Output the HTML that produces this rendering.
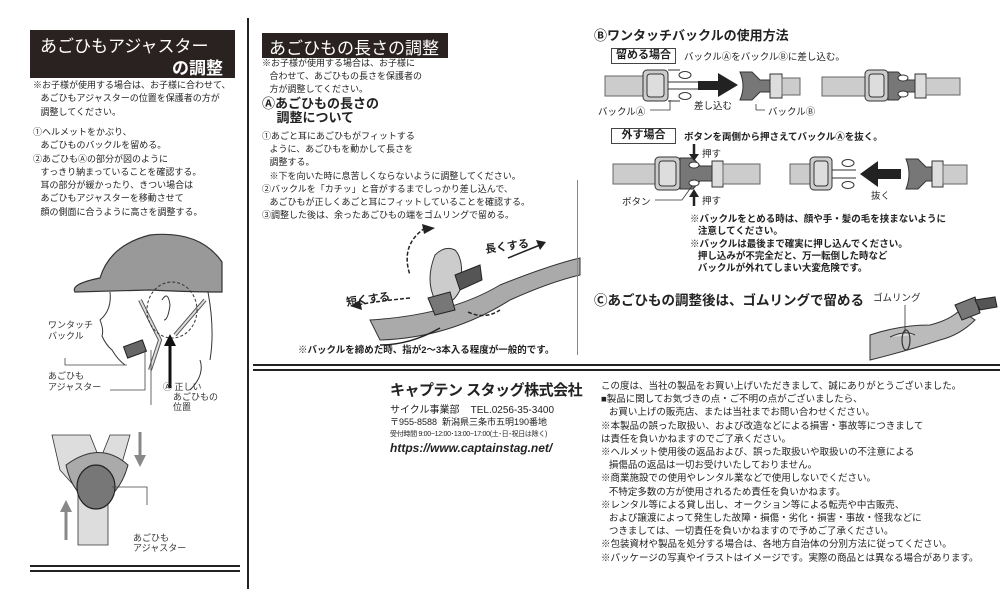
<!DOCTYPE html>
<html><head><meta charset="utf-8">
<style>
*{margin:0;padding:0;box-sizing:border-box}
body{width:1000px;height:589px;background:#fff;position:relative;overflow:hidden;font-family:"Liberation Sans","Noto Sans CJK JP",sans-serif;color:#222}
.a{position:absolute;white-space:nowrap}
.t{font-size:9.5px;line-height:13.2px}
.b{font-weight:bold}
.box{position:absolute;border:1.5px solid #444;font-size:11px;font-weight:bold;text-align:center;line-height:13px}
</style></head><body>
<!-- left title -->
<div class="a" style="left:30px;top:30px;width:205px;height:48px;background:#2a2220"></div>
<div class="a" style="left:40px;top:32px;color:#fff;font-size:17px">あごひもアジャスター</div>
<div class="a" style="left:172px;top:54px;color:#fff;font-size:17px;font-weight:bold">の調整</div>
<div class="a" style="left:33px;top:79px;font-size:9px;line-height:13.3px">※お子様が使用する場合は、お子様に合わせて、<br>&nbsp;&nbsp;&nbsp;あごひもアジャスターの位置を保護者の方が<br>&nbsp;&nbsp;&nbsp;調整してください。</div>
<div class="a" style="left:33px;top:126px;font-size:9px;line-height:13.3px">①ヘルメットをかぶり、<br>&nbsp;&nbsp;&nbsp;あごひものバックルを留める。<br>②あごひもⒶの部分が図のように<br>&nbsp;&nbsp;&nbsp;すっきり納まっていることを確認する。<br>&nbsp;&nbsp;&nbsp;耳の部分が緩かったり、きつい場合は<br>&nbsp;&nbsp;&nbsp;あごひもアジャスターを移動させて<br>&nbsp;&nbsp;&nbsp;顔の側面に合うように高さを調整する。</div>

<div class="a" style="left:247px;top:18px;width:2px;height:571px;background:#222"></div>

<svg class="a" style="left:0;top:0" width="250" height="589">
 <path d="M75 292 Q70 284 100 278 Q110 245 150 235 Q200 230 222 262 L222 292 Q190 292 150 290 Z" fill="#999" stroke="#333" stroke-width="1.2"/>
 <path d="M110 292 Q112 310 100 320 Q104 330 102 336 Q106 345 112 350 Q118 360 125 365 M208 292 Q215 330 210 360 M200 360 Q205 375 190 390" fill="none" stroke="#333" stroke-width="1"/>
 <path d="M140 300 L160 340 L150 370 M205 300 L175 335" fill="none" stroke="#555" stroke-width="4"/>
 <path d="M140 300 L160 340 L150 370 M205 300 L175 335" fill="none" stroke="#ddd" stroke-width="2"/>
 <ellipse cx="172" cy="310" rx="25" ry="28" fill="none" stroke="#333" stroke-dasharray="3 2"/>
 <path d="M162 300 Q168 290 170 305 Q168 320 164 320" fill="none" stroke="#333"/>
 <rect x="125" y="343" width="20" height="12" fill="#666" stroke="#222" transform="rotate(-20 135 349)"/>
 <path d="M65 358 L65 365 L127 365 M110 390 L145 390 L145 350 M151 350 L151 405" fill="none" stroke="#444" stroke-width=".8"/>
 <path d="M170 388 L170 340" stroke="#111" stroke-width="3"/><path d="M164 346 L170 334 L176 346Z" fill="#111"/>
 <path d="M52 435 L90 435 L100 460 L110 435 L130 435 L120 470 L108 490 L108 545 L78 545 L78 490 L60 470 Z" fill="#ddd" stroke="#333" stroke-width=".8"/>
 <path d="M66 465 Q100 440 128 465 Q120 495 96 505 Q72 495 66 465Z" fill="#aaa" stroke="#333"/>
 <ellipse cx="96" cy="487" rx="19" ry="22" fill="#777" stroke="#222" stroke-width="1.2"/>
 <path d="M112 487 L147 487 L147 505" fill="none" stroke="#444" stroke-width=".8"/>
 <path d="M140 432 L140 457" stroke="#888" stroke-width="3"/><path d="M134 455 L140 467 L146 455Z" fill="#888"/>
 <path d="M66 540 L66 510" stroke="#888" stroke-width="3"/><path d="M60 512 L66 500 L72 512Z" fill="#888"/>
 <rect x="30" y="565" width="210" height="2" fill="#222"/><rect x="30" y="570" width="210" height="2" fill="#222"/>
</svg>
<div class="a" style="left:48px;top:320px;font-size:9px;line-height:11px;color:#333">ワンタッチ<br>バックル</div>
<div class="a" style="left:48px;top:371px;font-size:9px;line-height:11px;color:#333">あごひも<br>アジャスター</div>
<div class="a" style="left:163px;top:382px;font-size:9px;line-height:10px;color:#333">Ⓐ 正しい<br>&nbsp;&nbsp;&nbsp;&nbsp;あごひもの<br>&nbsp;&nbsp;&nbsp;&nbsp;位置</div>
<div class="a" style="left:133px;top:533px;font-size:9px;line-height:10px;color:#333">あごひも<br>アジャスター</div>

<!-- middle -->
<div class="a" style="left:262px;top:33px;width:186px;height:25px;background:#2a2220"></div>
<div class="a" style="left:269px;top:34px;color:#fff;font-size:17px">あごひもの長さの調整</div>
<div class="a t" style="left:262px;top:57px;font-size:9px;line-height:13px">※お子様が使用する場合は、お子様に<br>&nbsp;&nbsp;&nbsp;合わせて、あごひもの長さを保護者の<br>&nbsp;&nbsp;&nbsp;方が調整してください。</div>
<div class="a b" style="left:262px;top:97px;font-size:13px;line-height:14px">Ⓐあごひもの長さの<br>&nbsp;&nbsp;&nbsp;&nbsp;調整について</div>
<div class="a t" style="left:262px;top:130px;font-size:9px">①あごと耳にあごひもがフィットする<br>&nbsp;&nbsp;&nbsp;ように、あごひもを動かして長さを<br>&nbsp;&nbsp;&nbsp;調整する。<br>&nbsp;&nbsp;&nbsp;※下を向いた時に息苦しくならないように調整してください。<br>②バックルを「カチッ」と音がするまでしっかり差し込んで、<br>&nbsp;&nbsp;&nbsp;あごひもが正しくあごと耳にフィットしていることを確認する。<br>③調整した後は、余ったあごひもの端をゴムリングで留める。</div>
<svg class="a" style="left:250px;top:220px" width="340" height="150">
 <path d="M120 100 Q200 95 250 65 Q300 45 330 38 L330 55 Q300 62 260 80 Q200 118 130 120 Z" fill="#aaa" stroke="#333"/>
 <path d="M185 35 Q175 60 185 80 Q200 90 210 70 Q215 40 205 30 Q195 25 185 35Z" fill="#ccc" stroke="#333"/>
 <path d="M205 55 L230 45 L232 60 L210 70Z" fill="#555" stroke="#222"/>
 <path d="M178 78 L200 72 L205 90 L185 95Z" fill="#777" stroke="#222"/>
 <path d="M175 8 Q150 25 160 55" fill="none" stroke="#222" stroke-width="1.5" stroke-dasharray="4 2"/>
 <path d="M172 4 L185 8 L174 14Z" fill="#222"/>
 <path d="M160 78 Q120 82 108 85" fill="none" stroke="#222" stroke-width="1.5" stroke-dasharray="4 2"/>
 <path d="M110 80 L100 86 L112 90Z" fill="#222"/>
 <path d="M218 92 Q235 100 250 90" fill="none" stroke="#222" stroke-width="1.5" stroke-dasharray="4 2"/>
 <path d="M258 38 L290 25" stroke="#222" stroke-width="1.5"/><path d="M286 20 L296 22 L290 30Z" fill="#222"/>
 <path d="M130 125 Q160 125 190 108" stroke="#222" stroke-width="1.5" fill="none"/>
</svg>
<div class="a b" style="left:485px;top:238px;font-size:11px;transform:rotate(-8deg)">長くする</div>
<div class="a b" style="left:346px;top:291px;font-size:11px;transform:rotate(-8deg)">短くする</div>
<div class="a b" style="left:298px;top:342px;font-size:9.5px">※バックルを締めた時、指が2〜3本入る程度が一般的です。</div>
<div class="a" style="left:577px;top:180px;width:1px;height:175px;background:#888"></div>
<div class="a" style="left:253px;top:364px;width:747px;height:2px;background:#222"></div>
<div class="a" style="left:253px;top:369px;width:747px;height:2px;background:#222"></div>

<!-- right B -->
<div class="a b" style="left:594px;top:25px;font-size:13px">Ⓑワンタッチバックルの使用方法</div>
<div class="box" style="left:611px;top:48px;width:65px;height:16px">留める場合</div>
<div class="a" style="left:684px;top:49px;font-size:9.5px">バックルⒶをバックルⒷに差し込む。</div>
<div class="box" style="left:611px;top:128px;width:65px;height:16px">外す場合</div>
<div class="a b" style="left:684px;top:129px;font-size:9.5px">ボタンを両側から押さえてバックルⒶを抜く。</div>
<svg class="a" style="left:0;top:0" width="1000" height="589">
 <g stroke="#333" stroke-width="1">
 <!-- row1 buckle A -->
 <rect x="605" y="76" width="40" height="20" fill="#ccc" stroke="#666"/>
 <rect x="643" y="70" width="25" height="31" rx="4" fill="#ccc"/>
 <rect x="647" y="74" width="17" height="23" rx="3" fill="#ddd"/>
 <path d="M668 82 L700 82 M668 89 L700 89" />
 <ellipse cx="685" cy="75" rx="6" ry="3.5" fill="#fff"/><ellipse cx="685" cy="96" rx="6" ry="3.5" fill="#fff"/>
 <path d="M668 70 L680 70 M668 101 L680 101"/>
 <!-- arrow -->
 <rect x="698" y="81" width="22" height="9" fill="#222" stroke="none"/><path d="M718 73 L738 85 L718 97Z" fill="#222" stroke="none"/>
 <!-- buckle B -->
 <path d="M740 72 L752 72 L760 80 L770 80 L770 92 L760 92 L752 100 L740 100 Q746 86 740 72Z" fill="#777"/>
 <rect x="770" y="74" width="12" height="24" fill="#ddd"/>
 <rect x="782" y="78" width="18" height="17" fill="#ccc" stroke="#666"/>
 <path d="M756 110 L756 104 M756 110 L765 110" fill="none" stroke-width=".8"/>
 <!-- combined -->
 <rect x="822" y="77" width="45" height="19" fill="#ccc" stroke="#666"/>
 <rect x="865" y="70" width="23" height="31" rx="4" fill="#ccc"/>
 <rect x="869" y="74" width="15" height="23" rx="3" fill="#ddd"/>
 <path d="M888 72 L898 72 L906 80 L915 80 L915 92 L906 92 L898 100 L888 100Z" fill="#777"/>
 <ellipse cx="903" cy="78" rx="5" ry="3" fill="#fff"/><ellipse cx="903" cy="94" rx="5" ry="3" fill="#fff"/>
 <rect x="915" y="74" width="11" height="24" fill="#ddd"/>
 <rect x="926" y="78" width="34" height="17" fill="#ccc" stroke="#666"/>
 <path d="M670 100 L670 110 L650 110" fill="none" stroke-width=".8"/>
 <!-- row2 combined -->
 <rect x="613" y="164" width="44" height="20" fill="#ccc" stroke="#666"/>
 <rect x="655" y="157" width="25" height="33" rx="4" fill="#ccc"/>
 <rect x="659" y="161" width="17" height="25" rx="3" fill="#ddd"/>
 <path d="M680 158 L693 158 L700 166 L712 166 L712 181 L700 181 L693 189 L680 189Z" fill="#777"/>
 <ellipse cx="694" cy="165" rx="5" ry="3" fill="#fff"/><ellipse cx="694" cy="183" rx="5" ry="3" fill="#fff"/>
 <rect x="712" y="161" width="11" height="26" fill="#ddd"/>
 <rect x="723" y="164" width="37" height="20" fill="#ccc" stroke="#666"/>
 <path d="M655 200 L682 200 L692 186" fill="none" stroke-width=".8"/>
 <!-- buckle A -->
 <rect x="790" y="164" width="22" height="20" fill="#ccc" stroke="#666"/>
 <rect x="810" y="157" width="22" height="33" rx="4" fill="#ccc"/>
 <rect x="814" y="161" width="14" height="25" rx="3" fill="#ddd"/>
 <path d="M832 170 L856 170 M832 178 L856 178"/>
 <ellipse cx="848" cy="163" rx="6" ry="3.5" fill="#fff"/><ellipse cx="848" cy="185" rx="6" ry="3.5" fill="#fff"/>
 <!-- arrow left -->
 <rect x="875" y="169" width="26" height="10" fill="#222" stroke="none"/><path d="M878 161 L860 174 L878 187Z" fill="#222" stroke="none"/>
 <!-- buckle B -->
 <path d="M906 159 L918 159 L926 167 L932 167 L932 181 L926 181 L918 189 L906 189 Q912 174 906 159Z" fill="#777"/>
 <rect x="932" y="161" width="11" height="26" fill="#ddd"/>
 <rect x="943" y="165" width="24" height="19" fill="#ccc" stroke="#666"/>
 </g>
 <path d="M694 144 L694 156" stroke="#222" stroke-width="2.5"/><path d="M689 154 L694 161 L699 154Z" fill="#222"/>
 <path d="M694 206 L694 195" stroke="#222" stroke-width="2.5"/><path d="M689 197 L694 189 L699 197Z" fill="#222"/>
</svg>
<div class="a" style="left:598px;top:104px;font-size:9.5px">バックルⒶ</div>
<div class="a" style="left:694px;top:98px;font-size:9.5px">差し込む</div>
<div class="a" style="left:768px;top:104px;font-size:9.5px">バックルⒷ</div>
<div class="a" style="left:702px;top:146px;font-size:9.5px">押す</div>
<div class="a" style="left:702px;top:193px;font-size:9.5px">押す</div>
<div class="a" style="left:622px;top:194px;font-size:9.5px">ボタン</div>
<div class="a" style="left:871px;top:188px;font-size:9.5px">抜く</div>
<div class="a b" style="left:690px;top:214px;font-size:9.5px;line-height:12.3px">※バックルをとめる時は、顔や手・髪の毛を挟まないように<br>&nbsp;&nbsp;&nbsp;注意してください。<br>※バックルは最後まで確実に押し込んでください。<br>&nbsp;&nbsp;&nbsp;押し込みが不完全だと、万一転倒した時など<br>&nbsp;&nbsp;&nbsp;バックルが外れてしまい大変危険です。</div>
<div class="a b" style="left:594px;top:289px;font-size:13.5px">Ⓒあごひもの調整後は、ゴムリングで留める</div>
<div class="a" style="left:873px;top:290px;font-size:9.5px">ゴムリング</div>
<svg class="a" style="left:860px;top:295px" width="140" height="70">
 <path d="M10 40 Q40 30 70 30 Q90 25 100 15 L115 25 Q100 40 80 45 Q50 55 10 65Z" fill="#bbb" stroke="#333"/>
 <path d="M95 10 L115 2 L120 18 L102 25Z" fill="#777" stroke="#222"/>
 <path d="M115 5 L135 2 L137 12 L120 15Z" fill="#555" stroke="#222"/>
 <path d="M30 42 Q45 35 55 40" fill="#ddd" stroke="#333"/>
 <path d="M45 10 L45 38" stroke="#333" stroke-width=".8"/>
 <ellipse cx="46" cy="45" rx="4" ry="10" fill="none" stroke="#333" stroke-width="1.2"/>
</svg>

<!-- bottom company -->
<div class="a b" style="left:390px;top:379px;font-size:15px;letter-spacing:-0.5px">キャプテン スタッグ株式会社</div>
<div class="a" style="left:390px;top:401px;font-size:10px">サイクル事業部&nbsp;&nbsp;&nbsp;&nbsp;TEL.0256-35-3400</div>
<div class="a" style="left:390px;top:415px;font-size:9px">〒955-8588&nbsp;&nbsp;新潟県三条市五明190番地</div>
<div class="a" style="left:390px;top:429px;font-size:7px;letter-spacing:-0.3px">受付時間 9:00~12:00･13:00~17:00(土･日･祝日は除く)</div>
<div class="a b" style="left:390px;top:441px;font-size:12px;font-style:italic">https://www.captainstag.net/</div>
<div class="a t" style="left:601px;top:380px">この度は、当社の製品をお買い上げいただきまして、誠にありがとうございました。<br>■製品に関してお気づきの点・ご不明の点がございましたら、<br>&nbsp;&nbsp;&nbsp;お買い上げの販売店、または当社までお問い合わせください。<br>※本製品の誤った取扱い、および改造などによる損害・事故等につきまして<br>は責任を負いかねますのでご了承ください。<br>※ヘルメット使用後の返品および、誤った取扱いや取扱いの不注意による<br>&nbsp;&nbsp;&nbsp;損傷品の返品は一切お受けいたしておりません。<br>※商業施設での使用やレンタル業などで使用しないでください。<br>&nbsp;&nbsp;&nbsp;不特定多数の方が使用されるため責任を負いかねます。<br>※レンタル等による貸し出し、オークション等による転売や中古販売、<br>&nbsp;&nbsp;&nbsp;および譲渡によって発生した故障・損傷・劣化・損害・事故・怪我などに<br>&nbsp;&nbsp;&nbsp;つきましては、一切責任を負いかねますので予めご了承ください。<br>※包装資材や製品を処分する場合は、各地方自治体の分別方法に従ってください。<br>※パッケージの写真やイラストはイメージです。実際の商品とは異なる場合があります。</div>
</body></html>
